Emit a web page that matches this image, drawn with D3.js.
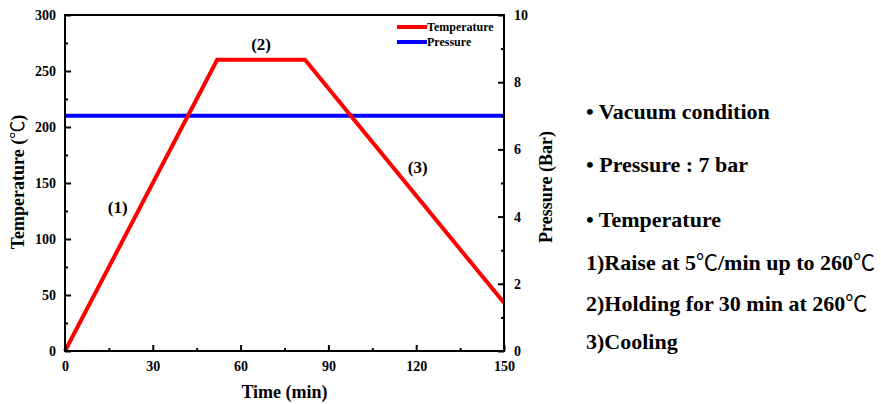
<!DOCTYPE html>
<html>
<head>
<meta charset="utf-8">
<script src="https://cdn.jsdelivr.net/npm/d3@7"></script>
<style>
  body { margin: 0; background: #fff; }
  text { font-family: "Liberation Serif", "Noto Sans CJK KR", serif; font-weight: bold; fill: #000; }
  .deg { font-weight: normal; font-family: "Noto Sans CJK KR", serif; }
</style>
</head>
<body>
<svg id="chart" width="881" height="404"></svg>
<script>
// temperature profile (min, degC)
var tempTime = [0, 52, 82, 150];
var tempValue = [0, 260, 260, 43];
// pressure (min, bar)
var presTime = [0, 150];
var presValue = [7, 7];

var xTicks = [0, 30, 60, 90, 120, 150];
var yTicks = [0, 50, 100, 150, 200, 250, 300];
var y2Ticks = [0, 2, 4, 6, 8, 10];

var stageLabels = [
  { t: 18, v: 123, label: "(1)" },
  { t: 67, v: 269, label: "(2)" },
  { t: 120.5, v: 159, label: "(3)" }
];

var notes = [
  "• Vacuum condition",
  "• Pressure : 7 bar",
  "• Temperature",
  "1)Raise at 5℃/min up to 260℃",
  "2)Holding for 30 min at 260℃",
  "3)Cooling"
];

var svg = d3.select("#chart");
var mLeft = 65, mRight = 504, mTop = 15, mBottom = 351;

var x = d3.scaleLinear().domain([0, 150]).range([mLeft, mRight]);
var y = d3.scaleLinear().domain([0, 300]).range([mBottom, mTop]);
var y2 = d3.scaleLinear().domain([0, 10]).range([mBottom, mTop]);

var line = d3.line()
  .x(function(d){ return x(d[0]) })
  .y(function(d){ return d[2](d[1]) });

var tempData = tempTime.map(function(t, i){ return [t, tempValue[i], y] });
var presData = presTime.map(function(t, i){ return [t, presValue[i], y2] });

svg.append("path")
  .attr("d", line(presData))
  .attr("fill", "none")
  .attr("stroke", "#0000ff")
  .attr("stroke-width", 4);

svg.append("path")
  .attr("d", line(tempData))
  .attr("fill", "none")
  .attr("stroke", "#ff0000")
  .attr("stroke-width", 4)
  .attr("stroke-linejoin", "miter");

// frame
svg.append("rect")
  .attr("x", mLeft).attr("y", mTop)
  .attr("width", mRight - mLeft).attr("height", mBottom - mTop)
  .attr("fill", "none").attr("stroke", "#000").attr("stroke-width", 2);

function styleAxis(g) {
  g.select(".domain").remove();
  g.selectAll(".tick line").attr("stroke", "#000").attr("stroke-width", 2);
  g.selectAll("text").style("font-size", "14px");
}

// bottom axis
var xMinor = d3.range(15, 150, 30);
svg.append("g")
  .attr("transform", "translate(0," + mBottom + ")")
  .call(d3.axisBottom(x).tickValues(xTicks).tickSizeInner(-6).tickPadding(10))
  .call(styleAxis);
svg.append("g")
  .attr("transform", "translate(0," + mBottom + ")")
  .call(d3.axisBottom(x).tickValues(xMinor).tickSizeInner(-3).tickFormat(""))
  .call(styleAxis);

// left axis
var yMinor = d3.range(25, 300, 50);
svg.append("g")
  .attr("transform", "translate(" + mLeft + ",0)")
  .call(d3.axisLeft(y).tickValues(yTicks).tickSizeInner(-6).tickPadding(9))
  .call(styleAxis);
svg.append("g")
  .attr("transform", "translate(" + mLeft + ",0)")
  .call(d3.axisLeft(y).tickValues(yMinor).tickSizeInner(-3).tickFormat(""))
  .call(styleAxis);

// right axis
var y2Minor = d3.range(1, 10, 2);
svg.append("g")
  .attr("transform", "translate(" + mRight + ",0)")
  .call(d3.axisRight(y2).tickValues(y2Ticks).tickSizeInner(-6).tickPadding(10))
  .call(styleAxis);
svg.append("g")
  .attr("transform", "translate(" + mRight + ",0)")
  .call(d3.axisRight(y2).tickValues(y2Minor).tickSizeInner(-3).tickFormat(""))
  .call(styleAxis);

// write text with the ℃ sign in a lighter face
function degText(sel, s) {
  var parts = s.split("℃");
  parts.forEach(function(p, i){
    sel.append("tspan").text(p);
    if (i < parts.length - 1) sel.append("tspan").attr("class", "deg").text("℃");
  });
}

// axis titles
svg.append("text")
  .attr("x", (mLeft + mRight) / 2).attr("y", 398)
  .attr("text-anchor", "middle")
  .style("font-size", "18px")
  .text("Time (min)");

var tt = svg.append("text")
  .attr("transform", "translate(24,182) rotate(-90)")
  .attr("text-anchor", "middle")
  .style("font-size", "18px");
degText(tt, "Temperature (℃)");

svg.append("text")
  .attr("transform", "translate(552,187) rotate(-90)")
  .attr("text-anchor", "middle")
  .style("font-size", "18px")
  .text("Pressure (Bar)");

// stage labels
svg.selectAll("text.stage")
  .data(stageLabels)
  .enter()
  .append("text")
  .attr("class", "stage")
  .attr("x", function(d){ return x(d.t) })
  .attr("y", function(d){ return y(d.v) })
  .attr("text-anchor", "middle")
  .style("font-size", "17px")
  .text(function(d){ return d.label });

// legend
var legend = [
  { name: "Temperature", color: "#ff0000" },
  { name: "Pressure", color: "#0000ff" }
];
var lg = svg.selectAll("g.legend")
  .data(legend)
  .enter()
  .append("g")
  .attr("class", "legend")
  .attr("transform", function(d, i){ return "translate(397," + (27 + i * 15) + ")" });
lg.append("line")
  .attr("x1", 0).attr("x2", 30)
  .attr("stroke", function(d){ return d.color })
  .attr("stroke-width", 4);
lg.append("text")
  .attr("x", 30).attr("y", 4)
  .style("font-size", "12px")
  .text(function(d){ return d.name });

// notes on the right
var noteY = [119, 172, 227, 270, 311, 349];
svg.selectAll("text.note")
  .data(notes)
  .enter()
  .append("text")
  .attr("class", "note")
  .attr("x", 586)
  .attr("y", function(d, i){ return noteY[i] })
  .style("font-size", "22px")
  .each(function(d){ degText(d3.select(this), d) });
</script>
</body>
</html>
